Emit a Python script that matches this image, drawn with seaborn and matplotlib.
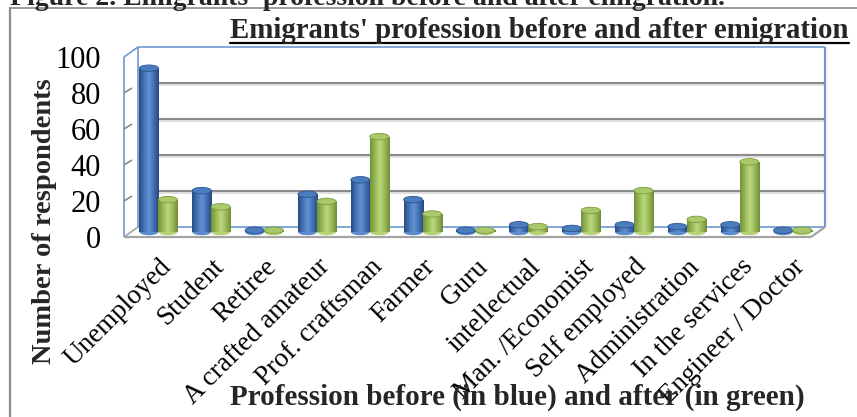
import numpy as np
import pandas as pd
import matplotlib
matplotlib.use("Agg")
import matplotlib.pyplot as plt
import seaborn as sns
from matplotlib.patches import Ellipse
from matplotlib.lines import Line2D
from matplotlib.colors import LinearSegmentedColormap
from matplotlib.transforms import (blended_transform_factory, IdentityTransform,
                                   ScaledTranslation)

# ---- data -------------------------------------------------------------
categories = ["Unemployed", "Student", "Retiree", "A crafted amateur",
              "Prof. craftsman", "Farmer", "Guru", "intellectual",
              "Man. /Economist", "Self employed", "Administration",
              "In the services", "Engineer / Doctor"]
before = [91, 23, 1, 21, 29, 18, 1, 4, 2, 4, 3, 4, 1]
after = [18, 14, 1, 17, 53, 10, 1, 3, 12, 23, 7, 39, 1]
periods = ["Before", "After"]
yticks = [0, 20, 40, 60, 80, 100]

n = len(categories)
df = pd.DataFrame({
    "profession": categories * 2,
    "count": before + after,
    "period": [periods[0]] * n + [periods[1]] * n,
})

# ---- style ------------------------------------------------------------
sns.set_theme(style="white")
plt.rcParams["font.family"] = ["Liberation Serif", "DejaVu Serif"]

W, H = 857, 417
DPI = 100
fig = plt.figure(figsize=(W / DPI, H / DPI), dpi=DPI)
fig.patch.set_facecolor("white")

# plane in which the cylinders stand (pixel box)
L, R, T, B = 132, 819, 52, 232
ax = fig.add_axes([L / W, 1 - B / H, (R - L) / W, (B - T) / H])

blue, green = "#4f81bd", "#9bbb59"
sns.barplot(data=df, x="profession", y="count", hue="period",
            palette=[blue, green], width=0.72, gap=0, saturation=1,
            legend=False, edgecolor="none", ax=ax)

ax.set_xlim(-0.5, n - 0.5)
ax.set_ylim(0, 100)
ax.patch.set_alpha(0)
for s in ax.spines.values():
    s.set_visible(False)
ax.set_xlabel("")
ax.set_ylabel("")
ax.set_yticks([])
ax.set_xticks(range(n))
ax.set_xticklabels(categories, rotation=45, ha="right", va="top",
                   rotation_mode="anchor", fontsize=19.5, color="black")
ax.tick_params(axis="x", length=0, pad=16)

# ---- cylinder shading --------------------------------------------------
cmaps = [
    LinearSegmentedColormap.from_list(
        "cyl_blue", ["#284c80", "#4374b6", "#6392d2", "#3f6fb1", "#27497c"]),
    LinearSegmentedColormap.from_list(
        "cyl_green", ["#74913a", "#97b955", "#bcd87e", "#98b956", "#718d37"]),
]
cap_face = ["#4b7cbe", "#a9c96a"]
cap_edge = ["#2c5690", "#7e9c42"]
cap_h = 3.6
grad = np.linspace(0, 1, 64).reshape(1, -1)

bars = list(ax.patches)[:2 * n]
for i, bar in enumerate(bars):
    k = 0 if i < n else 1
    x0, w, h = bar.get_x(), bar.get_width(), bar.get_height()
    cx = x0 + w / 2
    bar.set_zorder(2)
    bar.set_clip_on(False)
    im = ax.imshow(grad, cmap=cmaps[k], extent=[x0, x0 + w, 0, h],
                   aspect="auto", origin="lower", zorder=2.1,
                   interpolation="bilinear")
    im.set_clip_path(bar)
    ax.add_patch(Ellipse((cx, 0), w, cap_h, facecolor=cmaps[k](0.45),
                         edgecolor="none", zorder=1.9, clip_on=False))
    ax.add_patch(Ellipse((cx, h), w, cap_h, facecolor=cap_face[k],
                         edgecolor=cap_edge[k], lw=0.6, zorder=2.2,
                         clip_on=False))

ax.set_xlim(-0.5, n - 0.5)
ax.set_ylim(0, 100)

# ---- pseudo 3-D frame -------------------------------------------------
xy = blended_transform_factory(ax.transAxes, ax.transData)
planes = {"back": (6, 5), "mid": (0, 0), "front": (-8, -5)}


def px(xa, yd, plane):
    dx, dy = planes[plane]
    X, Y = xy.transform((xa, yd))
    return X + dx, Y + dy


def seg(p, q, color, lw, z):
    ln = Line2D([p[0], q[0]], [p[1], q[1]], color=color, lw=lw,
                transform=IdentityTransform(), zorder=z, clip_on=False,
                solid_capstyle="butt")
    ax.add_line(ln)


frame_blue = "#6f98d2"
grid_gray = "#8a8a8a"

# back wall grid
for v in yticks[1:-1]:
    a, b = px(0, v, "back"), px(1, v, "back")
    seg((a[0], a[1] - 1.5), (b[0], b[1] - 1.5), "#dcdcdc", 1.2, 0.4)
    seg(a, b, grid_gray, 1.5, 0.5)
# back wall outline
seg(px(0, 100, "back"), px(1, 100, "back"), frame_blue, 1.2, 0.6)
seg(px(0, 0, "back"), px(0, 100, "back"), frame_blue, 1.2, 0.6)
seg(px(1, 0, "back"), px(1, 100, "back"), frame_blue, 1.6, 0.6)
seg(px(0, 0, "back"), px(1, 0, "back"), frame_blue, 1.2, 0.6)
# left wall
seg(px(0, 100, "front"), px(0, 100, "back"), frame_blue, 1.2, 0.6)
seg(px(0, 0, "front"), px(0, 100, "front"), frame_blue, 1.2, 0.6)
for v in yticks[1:-1]:
    seg(px(0, v, "front"), px(0, v, "mid"), grid_gray, 1.2, 0.6)
# floor
seg(px(0, 0, "front"), px(1, 0, "front"), "#a3a3a3", 1.6, 3)
seg(px(1, 0, "front"), px(1, 0, "back"), "#a3a3a3", 1.6, 3)
seg(px(0, 0, "front"), px(0, 0, "back"), "#a3a3a3", 1.2, 3)

# y tick labels on the front edge
front = xy + ScaledTranslation(-31 / DPI, -5 / DPI, fig.dpi_scale_trans)
for v in yticks:
    ax.text(0, v, str(v), transform=front, ha="right", va="center_baseline",
            fontsize=22, color="black", clip_on=False)

# ---- texts ------------------------------------------------------------
fig.text(10 / W, 1 - 5 / H,
         "Figure 2. Emigrants' profession before and after emigration.",
         ha="left", va="baseline", fontsize=20, fontweight="bold")

title = fig.text(230 / W, 1 - 38 / H,
                 "Emigrants' profession before and after emigration",
                 ha="left", va="baseline", fontsize=20.8, fontweight="bold")

fig.text(45 / W, 1 - 221 / H, "Number of respondents", rotation=90,
         ha="center", va="center", fontsize=20.5, fontweight="bold")

fig.text(517 / W, 1 - 397 / H,
         "Profession before (in blue) and after (in green)",
         ha="center", va="center", fontsize=21, fontweight="bold")

# underline of the chart title
renderer = fig.canvas.get_renderer()
bb = title.get_window_extent(renderer)
fig.add_artist(Line2D([bb.x0, bb.x1], [H - 43, H - 43], color="black",
                      lw=1.6, transform=IdentityTransform()))

# outer border of the figure panel
fig.add_artist(Line2D([10, W], [H - 8, H - 8], color="#8c8c8c", lw=1.2,
                      transform=IdentityTransform()))
fig.add_artist(Line2D([10, 10], [0, H - 8], color="#8c8c8c", lw=1.6,
                      transform=IdentityTransform()))

fig.savefig("out.png", dpi=DPI)
